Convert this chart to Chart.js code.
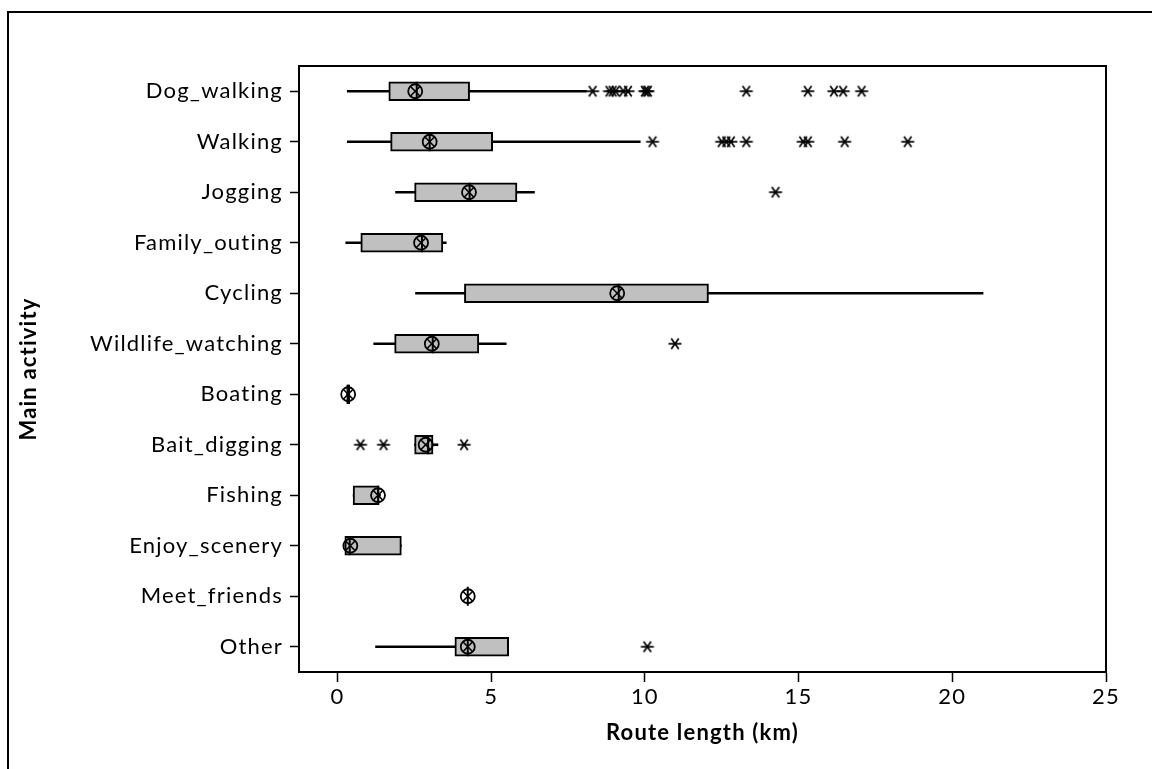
<!DOCTYPE html>
<html><head><meta charset="utf-8">
<script src="https://cdn.jsdelivr.net/npm/chart.js@4/dist/chart.umd.min.js"></script>
<style>
html,body{margin:0;padding:0;background:#fff;overflow:hidden;width:1152px;height:769px;}
#frame{position:absolute;left:7px;top:11px;width:1300px;height:900px;border:2px solid #000;box-sizing:border-box;}
#c{position:absolute;left:0;top:0;}
</style></head><body>
<div id="frame"></div>
<canvas id="c" width="1152" height="769"></canvas>
<script>
const categories = ['Dog_walking','Walking','Jogging','Family_outing','Cycling','Wildlife_watching','Boating','Bait_digging','Fishing','Enjoy_scenery','Meet_friends','Other'];
const whiskerLow  = [0.32, 0.32, 1.89, 0.27, 2.54, 1.18, 0.30, 2.51, 0.51, 0.24, 4.24, 1.24];
const q1          = [1.67, 1.73, 2.51, 0.76, 4.13, 1.86, 0.30, 2.51, 0.51, 0.24, 4.24, 3.82];
const median      = [2.58, 3.00, 4.30, 2.75, 9.15, 3.10, 0.35, 2.95, 1.33, 0.40, 4.24, 4.24];
const q3          = [4.30, 5.05, 5.84, 3.43, 12.07, 4.60, 0.40, 3.11, 1.35, 2.08, 4.24, 5.57];
const whiskerHigh = [8.10, 9.85, 6.41, 3.54, 21.0, 5.49, 0.40, 3.27, 1.40, 2.08, 4.24, 5.57];
const mean        = [2.53, 3.00, 4.28, 2.72, 9.10, 3.07, 0.35, 2.87, 1.32, 0.42, 4.24, 4.24];
const outliers = [
  [8.3, 8.85, 8.95, 9.05, 9.3, 9.45, 10.0, 10.05, 10.1, 13.3, 15.3, 16.15, 16.45, 17.05],
  [10.25, 12.5, 12.65, 12.8, 13.3, 15.15, 15.3, 16.5, 18.55],
  [14.25],
  [],
  [],
  [10.98],
  [],
  [0.75, 1.5, 4.12],
  [],
  [],
  [],
  [10.08]
];
const tickValues = [0, 5, 10, 15, 20, 25];

const FONT = 'Lato';
const LS = '1.2px';

// asterisk glyph for outliers (6 arms)
function makeAsterisk(){
  const s = 16, cv = document.createElement('canvas');
  cv.width = s; cv.height = s;
  const g = cv.getContext('2d');
  g.strokeStyle = '#000'; g.lineWidth = 1.7; g.lineCap = 'butt';
  const r = 6.5, c = s/2;
  [0, 55, 125].forEach(a => {
    const t = a*Math.PI/180;
    g.beginPath();
    g.moveTo(c - Math.cos(t)*r, c - Math.sin(t)*r);
    g.lineTo(c + Math.cos(t)*r, c + Math.sin(t)*r);
    g.stroke();
  });
  return cv;
}
const asterisk = makeAsterisk();

const spacing = {
  id: 'spacing',
  beforeUpdate(c){ c.ctx.letterSpacing = LS; },
  beforeLayout(c){ c.ctx.letterSpacing = LS; },
  beforeDraw(c){ c.ctx.letterSpacing = LS; }
};
const plotFrame = {
  id: 'plotFrame',
  afterDraw(c){
    const {ctx, chartArea:a} = c;
    ctx.save(); ctx.strokeStyle = '#000'; ctx.lineWidth = 2;
    ctx.strokeRect(a.left, a.top, a.right - a.left, a.bottom - a.top);
    ctx.restore();
  }
};

const outlierPts = [];
outliers.forEach((arr, i) => arr.forEach(v => outlierPts.push({x: v, y: categories[i]})));

new Chart(document.getElementById('c'), {
  type: 'bar',
  data: {
    labels: categories,
    datasets: [
      { label:'whisker', data: categories.map((c,i)=>[whiskerLow[i], whiskerHigh[i]]),
        backgroundColor:'#000', borderWidth:0, barThickness:2, grouped:false, order:6 },
      { label:'box', data: categories.map((c,i)=>[q1[i], q3[i]]),
        backgroundColor:'#c0c0c0', borderColor:'#000', borderWidth:2, borderSkipped:false,
        barThickness:19, grouped:false, order:5 },
      { type:'scatter', label:'median', data: categories.map((c,i)=>({x:median[i], y:c})),
        pointStyle:'line', rotation:90, radius:9.5, borderWidth:2, borderColor:'#000', order:4 },
      { type:'scatter', label:'mean', data: categories.map((c,i)=>({x:mean[i], y:c})),
        pointStyle:'circle', radius:7, borderWidth:1.8, borderColor:'#000', backgroundColor:'rgba(0,0,0,0)', order:3 },
      { type:'scatter', label:'meanX', data: categories.map((c,i)=>({x:mean[i], y:c})),
        pointStyle:'crossRot', radius:7, borderWidth:1.6, borderColor:'#000', order:2 },
      { type:'scatter', label:'outlier', data: outlierPts,
        pointStyle: asterisk, radius:7, order:1 }
    ]
  },
  options: {
    indexAxis: 'y',
    responsive: false,
    animation: false,
    layout: { padding: { top:66, right:46, left:0, bottom:0 } },
    plugins: { legend:{display:false}, tooltip:{enabled:false} },
    scales: {
      x: {
        type:'linear', min:-1.25, max:25,
        afterBuildTicks(s){ s.ticks = tickValues.map(v => ({value:v})); },
        grid:{ drawOnChartArea:false, drawTicks:true, tickLength:10, tickWidth:1.5, tickColor:'#000' },
        border:{ display:true, color:'#000', width:2 },
        ticks:{ color:'#000', font:{family:FONT, size:22}, padding:2, maxRotation:0 },
        title:{ display:true, text:'Route length (km)', color:'#000',
          font:{family:FONT, size:22, weight:'bold'}, padding:{top:0, bottom:23} },
        afterFit(s){ s.height = 97; }
      },
      y: {
        type:'category', offset:true,
        grid:{ offset:false, drawOnChartArea:false, drawTicks:true, tickLength:9, tickWidth:1.5, tickColor:'#000' },
        border:{ display:true, color:'#000', width:2 },
        ticks:{ color:'#000', font:{family:FONT, size:22}, padding:7, autoSkip:false },
        title:{ display:true, text:'Main activity', color:'#000',
          font:{family:FONT, size:22, weight:'bold'}, padding:{top:16, bottom:0} },
        afterFit(s){ s.width = 299; }
      }
    }
  },
  plugins: [spacing, plotFrame]
});
</script>
</body></html>
